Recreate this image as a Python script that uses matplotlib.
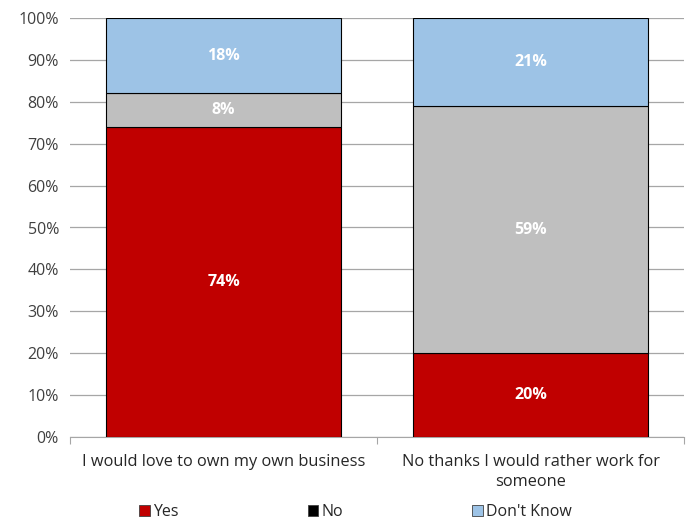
import numpy as np
import matplotlib
matplotlib.use("Agg")
import matplotlib.pyplot as plt
from matplotlib.patches import Patch

plt.rcParams['font.family'] = ['Open Sans', 'DejaVu Sans']

categories = ['I would love to own my own business', 'No thanks I would rather work for\nsomeone']
yes = [74, 20]
no = [8, 59]
dont_know = [18, 21]
series_names = ['Yes', 'No', "Don't Know"]

colors = ['#C00000', '#BFBFBF', '#9DC3E6']
legend_colors = ['#C00000', '#000000', '#9DC3E6']

fig = plt.figure(figsize=(6.89, 5.2), dpi=100)
ax = fig.add_axes([70 / 689, 1 - 437 / 520, 614 / 689, 419 / 520])

x = np.arange(len(categories))
bottom = np.zeros(len(categories))
for vals, col in zip([yes, no, dont_know], colors):
    vals = np.array(vals)
    ax.bar(x, vals, 0.766, bottom=bottom, color=col, edgecolor='#000000', linewidth=0.8, zorder=3)
    for xi, b, v in zip(x, bottom, vals):
        ax.text(xi, b + v / 2, f'{v}%', ha='center', va='center', color='white',
                fontsize=11.5, fontweight='bold', zorder=4)
    bottom += vals

ax.set_xlim(-0.5, 1.5)
ax.set_ylim(0, 100)
ax.set_yticks(np.arange(0, 101, 10))
ax.set_yticklabels([f'{v}%' for v in range(0, 101, 10)], fontsize=11.5, color='#404040')
ax.yaxis.grid(True, color='#A6A6A6', linewidth=0.9, zorder=0)
ax.tick_params(axis='y', length=0, pad=8)

ax.set_xticks([-0.5, 0.5, 1.5])
ax.set_xticklabels([])
ax.set_xticks(x, minor=True)
ax.set_xticklabels(categories, minor=True, fontsize=11.8, color='#262626', linespacing=1.35)
ax.tick_params(axis='x', which='major', length=5, color='#A6A6A6')
ax.tick_params(axis='x', which='minor', length=0, pad=12)

for s in ['left', 'right', 'top']:
    ax.spines[s].set_visible(False)
ax.spines['bottom'].set_color('#A6A6A6')

handles = [Patch(facecolor=c, edgecolor='#404040', linewidth=0.6) for c in legend_colors]
fig.legend(handles, series_names, loc='center', bbox_to_anchor=(0.516, 1 - 512 / 520), ncol=3,
           frameon=False, fontsize=11.5, handlelength=0.65, handleheight=0.65, handletextpad=0.2,
           columnspacing=8.1, labelcolor='#262626')

fig.savefig('out.png', dpi=100)
